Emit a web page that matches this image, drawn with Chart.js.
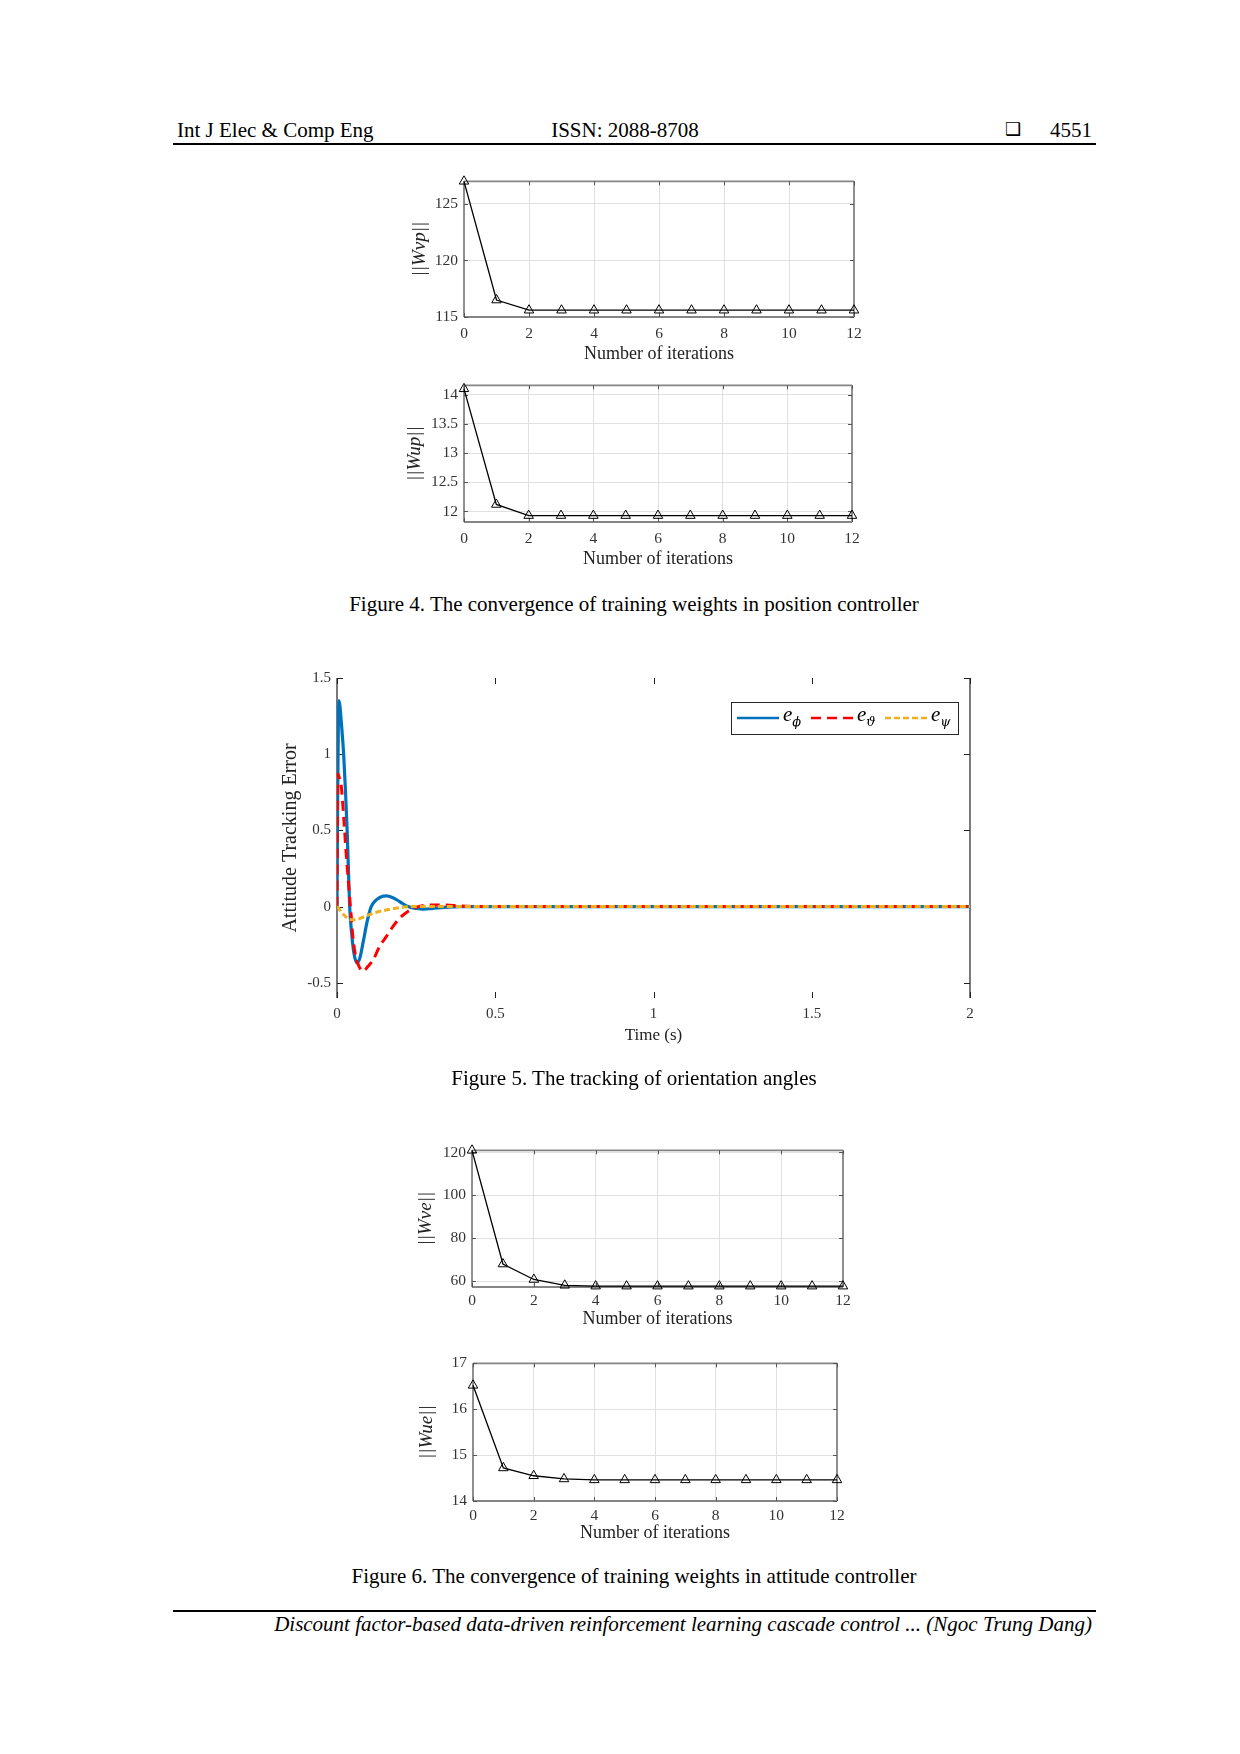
<!DOCTYPE html>
<html>
<head>
<meta charset="utf-8">
<script src="https://cdn.jsdelivr.net/npm/chart.js@4.4.1/dist/chart.umd.min.js"></script>
<style>
  body { margin: 0; background: #fff; }
  .page { position: relative; width: 1240px; height: 1754px; overflow: hidden; font-family: "Liberation Serif", "Times New Roman", serif; color: #000; }
  .txt { position: absolute; white-space: nowrap; line-height: 1; }
  .rule { position: absolute; background: #000; }
  canvas { position: absolute; }
</style>
</head>
<body>
<div class="page">
  <div class="txt" style="left:177px; top:120px; font-size:21px;">Int J Elec &amp; Comp Eng</div>
  <div class="txt" style="left:525px; width:200px; text-align:center; top:120px; font-size:21px;">ISSN: 2088-8708</div>
  <div class="txt" style="left:1005px; top:120px; font-size:18px; font-family:'DejaVu Sans';">&#10065;</div>
  <div class="txt" style="left:992px; width:100px; text-align:right; top:120px; font-size:21px;">4551</div>
  <div class="rule" style="left:173px; top:143px; width:923px; height:2px;"></div>

  <canvas id="wvp" width="476" height="201" style="left:400px; top:166px;"></canvas>
  <canvas id="wup" width="474" height="202" style="left:400px; top:370px;"></canvas>
  <div class="txt" style="left:184px; width:900px; text-align:center; top:594px; font-size:21px;">Figure 4. The convergence of training weights in position controller</div>

  <canvas id="att" width="723" height="405" style="left:267px; top:663px;"></canvas>
  <div class="txt" style="left:184px; width:900px; text-align:center; top:1068px; font-size:21px;">Figure 5. The tracking of orientation angles</div>

  <canvas id="wve" width="457" height="202" style="left:408px; top:1135px;"></canvas>
  <canvas id="wue" width="450" height="203" style="left:409px; top:1348px;"></canvas>
  <div class="txt" style="left:184px; width:900px; text-align:center; top:1566px; font-size:21px;">Figure 6. The convergence of training weights in attitude controller</div>

  <div class="rule" style="left:173px; top:1610px; width:923px; height:1.5px;"></div>
  <div class="txt" style="left:192px; width:900px; text-align:right; top:1614px; font-size:21px; font-style:italic;">Discount factor-based data-driven reinforcement learning cascade control ... (Ngoc Trung Dang)</div>
</div>

<script>
// iterations for the weight plots
const iterations = [0, 1, 2, 3, 4, 5, 6, 7, 8, 9, 10, 11, 12];
const wvpNorm = [127, 116.5, 115.6, 115.6, 115.6, 115.6, 115.6, 115.6, 115.6, 115.6, 115.6, 115.6, 115.6];
const wupNorm = [14.1, 12.12, 11.93, 11.93, 11.93, 11.93, 11.93, 11.93, 11.93, 11.93, 11.93, 11.93, 11.93];
const wveNorm = [121, 68, 60.8, 58.1, 57.7, 57.7, 57.7, 57.7, 57.7, 57.7, 57.7, 57.7, 57.7];
const wueNorm = [16.52, 14.72, 14.55, 14.48, 14.46, 14.46, 14.46, 14.46, 14.46, 14.46, 14.46, 14.46, 14.46];

// attitude tracking errors (time in s)
const tPhi = [0, 0.002, 0.0045, 0.0063, 0.009, 0.014, 0.021, 0.027, 0.032, 0.036, 0.040, 0.046, 0.053, 0.063, 0.072, 0.082, 0.095, 0.108, 0.125, 0.14, 0.156, 0.175, 0.2, 0.224, 0.25, 0.272, 0.3, 0.34, 0.39, 0.7, 1, 1.4, 2];
const ePhi = [0, 0.7, 1.25, 1.35, 1.32, 1.2, 1.0, 0.75, 0.5, 0.25, 0, -0.17, -0.3, -0.37, -0.34, -0.24, -0.1, 0, 0.045, 0.065, 0.07, 0.06, 0.03, 0, -0.012, -0.017, -0.013, -0.005, 0, 0, 0, 0, 0];
const tTheta = [0, 0.001, 0.003, 0.008, 0.0138, 0.021, 0.0296, 0.038, 0.045, 0.05, 0.059, 0.0696, 0.082, 0.098, 0.114, 0.135, 0.156, 0.177, 0.198, 0.224, 0.251, 0.293, 0.345, 0.387, 0.45, 1, 2];
const eTheta = [0, 0.45, 0.87, 0.84, 0.785, 0.59, 0.33, 0.11, -0.065, -0.196, -0.327, -0.392, -0.425, -0.392, -0.35, -0.26, -0.196, -0.13, -0.076, -0.032, -0.004, 0.011, 0.011, 0.004, 0, 0, 0];
const tPsi = [0, 0.01, 0.021, 0.035, 0.05, 0.065, 0.082, 0.114, 0.156, 0.198, 0.23, 0.4, 1, 2];
const ePsi = [0, -0.025, -0.054, -0.077, -0.087, -0.083, -0.07, -0.044, -0.022, -0.007, 0, 0, 0, 0];

const serif = '"Liberation Serif", "Times New Roman", serif';
const pts = (xs, ys) => xs.map((x, i) => ({ x: x, y: ys[i] }));
const plainNum = v => String(Number(v.toFixed(3)));

// box + inward tick marks, matlab style
const boxPlugin = {
  id: 'box',
  beforeDatasetsDraw(chart, args, o) {
    const { ctx, chartArea: a, scales } = chart;
    const x = scales.x, y = scales.y;
    ctx.save();
    ctx.strokeStyle = o.color;
    ctx.lineWidth = o.width;
    ctx.beginPath();
    if (o.horizontal) {
      ctx.moveTo(a.left, a.top); ctx.lineTo(a.right, a.top);
      ctx.moveTo(a.left, a.bottom); ctx.lineTo(a.right, a.bottom);
    }
    ctx.moveTo(a.left, a.top); ctx.lineTo(a.left, a.bottom);
    ctx.moveTo(a.right, a.top); ctx.lineTo(a.right, a.bottom);
    ctx.stroke();
    ctx.strokeStyle = o.tickColor;
    ctx.lineWidth = 1;
    ctx.beginPath();
    y.ticks.forEach(t => {
      const py = Math.round(y.getPixelForValue(t.value)) + 0.5;
      ctx.moveTo(a.left, py); ctx.lineTo(a.left + o.tick, py);
      ctx.moveTo(a.right, py); ctx.lineTo(a.right - o.tick, py);
    });
    x.ticks.forEach(t => {
      const px = Math.round(x.getPixelForValue(t.value)) + 0.5;
      ctx.moveTo(px, a.bottom); ctx.lineTo(px, a.bottom - o.tick);
      ctx.moveTo(px, a.top); ctx.lineTo(px, a.top + o.tick);
    });
    ctx.stroke();
    ctx.restore();
  }
};

// legend drawn inside the axes, labels like e_sub
const mLegend = {
  id: 'mlegend',
  afterDraw(chart, args, o) {
    if (!o.display) return;
    const { ctx, chartArea: a } = chart;
    const left = a.right - o.right - o.width, top = a.top + o.top;
    ctx.save();
    ctx.fillStyle = '#fff';
    ctx.fillRect(left, top, o.width, o.height);
    ctx.strokeStyle = '#262626';
    ctx.lineWidth = 1;
    ctx.strokeRect(left + 0.5, top + 0.5, o.width, o.height);
    const cy = top + o.height / 2;
    chart.data.datasets.forEach((ds, i) => {
      const x0 = left + 6 + i * 74;
      ctx.strokeStyle = ds.borderColor;
      ctx.lineWidth = 2.4;
      ctx.setLineDash(ds.borderDash || []);
      ctx.beginPath();
      ctx.moveTo(x0, cy); ctx.lineTo(x0 + 42, cy);
      ctx.stroke();
      ctx.setLineDash([]);
      const parts = ds.label.split('_');
      ctx.fillStyle = '#000';
      ctx.textBaseline = 'alphabetic';
      ctx.font = 'italic 21px ' + serif;
      ctx.fillText(parts[0], x0 + 46, cy + 3);
      const w = ctx.measureText(parts[0]).width;
      ctx.font = 'italic 13px "DejaVu Serif", ' + serif;
      ctx.fillText(parts[1], x0 + 46 + w, cy + 8);
    });
    ctx.restore();
  }
};

Chart.register(boxPlugin, mLegend);

function weightChart(id, ys, yMin, yMax, yStep, yTitle, g) {
  return new Chart(document.getElementById(id), {
    type: 'line',
    data: {
      datasets: [{
        data: pts(iterations, ys),
        borderColor: '#000',
        borderWidth: 1.3,
        pointStyle: 'triangle',
        pointRadius: 5.5,
        pointBorderColor: '#000',
        pointBackgroundColor: 'rgba(255,255,255,0)',
        pointBorderWidth: 1,
        tension: 0,
        clip: false
      }]
    },
    options: {
      responsive: false,
      animation: false,
      events: [],
      layout: { padding: { top: 12, right: g.pr, left: 0, bottom: 0 } },
      plugins: {
        legend: { display: false },
        tooltip: { enabled: false },
        box: { color: '#858585', width: 1.8, tickColor: '#555', tick: 4, horizontal: true },
        mlegend: { display: false }
      },
      scales: {
        x: {
          type: 'linear', min: 0, max: 12,
          afterFit: s => { s.height = 50; },
          ticks: { stepSize: 2, padding: g.xpad, color: '#333', font: { family: serif, size: 15.5 }, maxRotation: 0, callback: plainNum },
          grid: { color: '#e0e0e0', drawTicks: false },
          border: { display: false },
          title: { display: true, text: 'Number of iterations', color: '#222', font: { family: serif, size: 18 }, padding: { top: 0, bottom: g.tpad } }
        },
        y: {
          min: yMin, max: yMax,
          afterFit: s => { s.width = 64; },
          ticks: { stepSize: yStep, includeBounds: false, padding: 6, color: '#333', font: { family: serif, size: 15.5 }, callback: plainNum },
          grid: { color: '#e0e0e0', drawTicks: false },
          border: { display: false },
          title: { display: true, text: yTitle, color: '#222', font: { family: serif, size: 19, style: 'italic' }, padding: { top: g.ypad, bottom: 0 } }
        }
      }
    }
  });
}

weightChart('wvp', wvpNorm, 115, 127, 5, '||Wvp||', { pr: 22, xpad: 8, tpad: 2, ypad: 9 });
weightChart('wup', wupNorm, 11.82, 14.16, 0.5, '||Wup||', { pr: 22, xpad: 8, tpad: 2, ypad: 4 });
weightChart('wve', wveNorm, 57.3, 121, 20, '||Wve||', { pr: 22, xpad: 5, tpad: 7, ypad: 7 });
weightChart('wue', wueNorm, 14, 17, 1, '||Wue||', { pr: 22, xpad: 6, tpad: 7, ypad: 7 });

new Chart(document.getElementById('att'), {
  type: 'line',
  data: {
    datasets: [
      { label: 'e_\u03d5', data: pts(tPhi, ePhi), borderColor: '#0072BD', borderWidth: 3.2, order: 3 },
      { label: 'e_\u03d1', data: pts(tTheta, eTheta), borderColor: '#FF0000', borderWidth: 3, borderDash: [10, 6], order: 2 },
      { label: 'e_\u03c8', data: pts(tPsi, ePsi), borderColor: '#EDB120', borderWidth: 3, borderDash: [6, 3], order: 1 }
    ]
  },
  options: {
    responsive: false,
    animation: false,
    events: [],
    layout: { padding: { top: 15, right: 20, left: 0, bottom: 0 } },
    elements: { point: { radius: 0 }, line: { cubicInterpolationMode: 'monotone', fill: false } },
    plugins: {
      legend: { display: false },
      tooltip: { enabled: false },
      box: { color: '#222', width: 1.2, tickColor: '#222', tick: 6, horizontal: false },
      mlegend: { display: true, right: 12, top: 24, width: 227, height: 32 }
    },
    scales: {
      x: {
        type: 'linear', min: 0, max: 2,
        afterFit: s => { s.height = 70; },
        ticks: { stepSize: 0.5, padding: 7, color: '#333', font: { family: serif, size: 15 }, maxRotation: 0, callback: plainNum },
        grid: { display: false, drawTicks: false },
        border: { display: false },
        title: { display: true, text: 'Time (s)', color: '#222', font: { family: serif, size: 17 }, padding: { top: 0, bottom: 22 } }
      },
      y: {
        min: -0.6, max: 1.5,
        afterFit: s => { s.width = 70; },
        ticks: { stepSize: 0.5, includeBounds: false, padding: 6, color: '#333', font: { family: serif, size: 15 }, callback: plainNum },
        grid: { display: false, drawTicks: false },
        border: { display: false },
        title: { display: true, text: 'Attitude Tracking Error', color: '#222', font: { family: serif, size: 20 }, padding: { top: 12, bottom: 0 } }
      }
    }
  }
});
</script>
</body>
</html>
